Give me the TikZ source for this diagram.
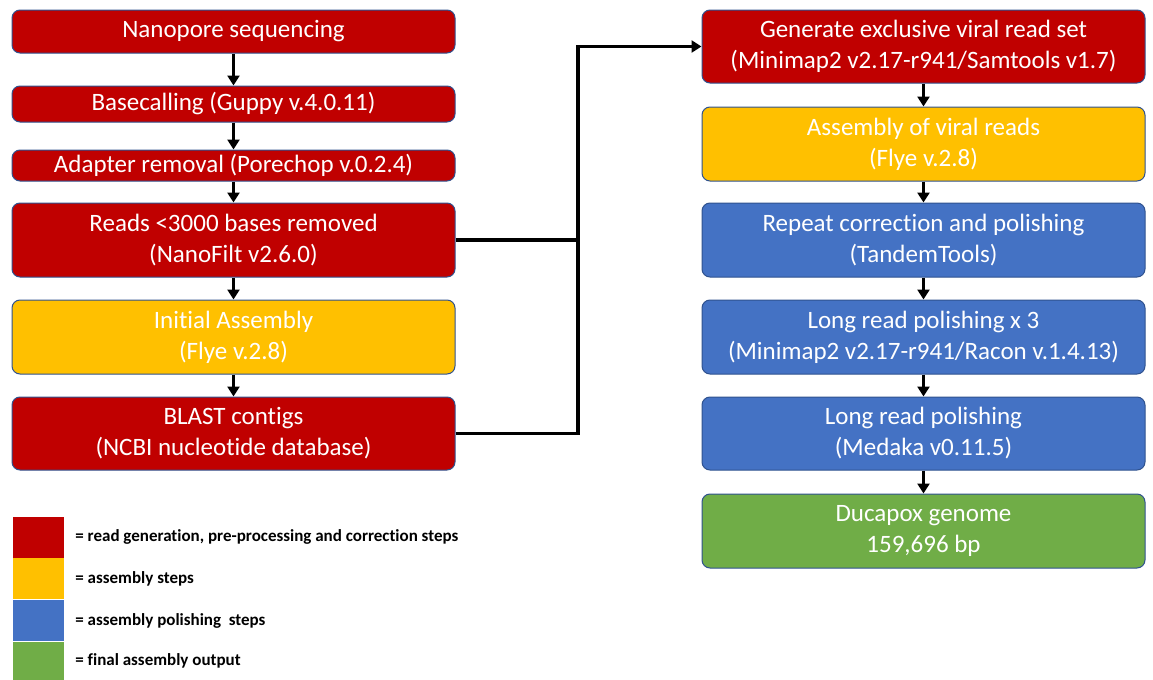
\documentclass[tikz,border=0pt]{standalone}
\usepackage{fontspec}
\setmainfont[Ligatures=NoCommon]{Carlito}
\usetikzlibrary{arrows.meta}
\definecolor{readred}{HTML}{C00000}
\definecolor{asmyellow}{HTML}{FFC000}
\definecolor{polblue}{HTML}{4472C4}
\definecolor{outgreen}{HTML}{70AD47}
\definecolor{edgeblue}{HTML}{2F528F}
\tikzset{
  stepbox/.style={draw=edgeblue,line width=0.5pt,rounded corners=4pt,
    minimum width=221.5pt,inner sep=0pt,text=white,align=center,
    font=\fontsize{12.5}{15.5}\selectfont},
  flow/.style={-{Triangle[width=6pt,length=5pt]},line width=1.6pt},
  swatch/.style={minimum width=25.5pt,inner sep=0pt},
  keytext/.style={anchor=west,inner sep=0pt,font=\fontsize{8.5}{10}\selectfont\bfseries}
}
\begin{document}
\begin{tikzpicture}[x=0.5pt,y=-0.5pt]
  \useasboundingbox (0,0) rectangle (1153,680);
  % left column
  \node[stepbox,fill=readred,minimum height=21.5pt] (seq) at (233.5,31.5) {Nanopore sequencing};
  \node[stepbox,fill=readred,minimum height=18pt] (call) at (233.5,104) {Basecalling (Guppy v.4.0.11)};
  \node[stepbox,fill=readred,minimum height=15.5pt] (trim) at (233.5,165.5) {Adapter removal (Porechop v.0.2.4)};
  \node[stepbox,fill=readred,minimum height=37pt] (filt) at (233.5,240) {Reads <3000 bases removed\\(NanoFilt v2.6.0)};
  \node[stepbox,fill=asmyellow,minimum height=37pt] (init) at (233.5,337) {Initial Assembly\\(Flye v.2.8)};
  \node[stepbox,fill=readred,minimum height=36.5pt] (blast) at (233.5,433.5) {BLAST contigs\\(NCBI nucleotide database)};
  % right column
  \node[stepbox,fill=readred,minimum height=36.5pt] (viral) at (923.5,46.5) {Generate exclusive viral read set\\(Minimap2 v2.17-r941/Samtools v1.7)};
  \node[stepbox,fill=asmyellow,minimum height=37pt] (asm) at (923.5,144) {Assembly of viral reads\\(Flye v.2.8)};
  \node[stepbox,fill=polblue,minimum height=37pt] (rep) at (923.5,240) {Repeat correction and polishing\\(TandemTools)};
  \node[stepbox,fill=polblue,minimum height=37pt] (racon) at (923.5,337) {Long read polishing x 3\\(Minimap2 v2.17-r941/Racon v.1.4.13)};
  \node[stepbox,fill=polblue,minimum height=36.5pt] (medaka) at (923.5,433.5) {Long read polishing\\(Medaka v0.11.5)};
  \node[stepbox,fill=outgreen,minimum height=37pt] (genome) at (923.5,531) {Ducapox genome\\159,696 bp};

  \foreach \a/\b in {seq/call,call/trim,trim/filt,filt/init,init/blast,
                     viral/asm,asm/rep,rep/racon,racon/medaka,medaka/genome}
    \draw[flow] (\a) -- (\b);

  % joining line
  \coordinate (bus) at (578,433.5);
  \draw[line width=1.6pt] (filt.east) -- (filt.east -| bus);
  \draw[flow,rounded corners=0pt] (blast.east) -- (bus) |- (viral.west);

  % legend
  \node[swatch,fill=readred,minimum height=20.5pt] (kred) at (38.5,537) {};
  \node[swatch,fill=asmyellow,minimum height=20.5pt] (kyel) at (38.5,578.5) {};
  \node[swatch,fill=polblue,minimum height=20.5pt] (kblu) at (38.5,620.5) {};
  \node[swatch,fill=outgreen,minimum height=19pt] (kgrn) at (38.5,661) {};
  \node[keytext] (tred) at (75,537) {= read generation, pre-processing and correction steps};
  \node[keytext] (tyel) at (75,578.5) {= assembly steps};
  \node[keytext] (tblu) at (75,620.5) {= assembly polishing\ \ steps};
  \node[keytext] (tgrn) at (75,661) {= final assembly output};
\end{tikzpicture}
\end{document}
